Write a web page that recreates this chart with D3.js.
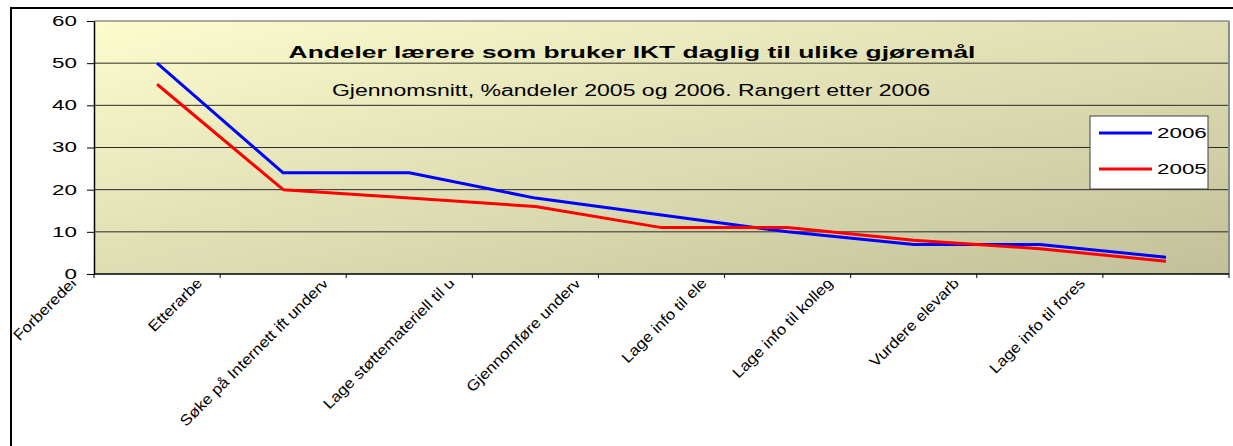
<!DOCTYPE html>
<html><head><meta charset="utf-8">
<script src="https://cdn.jsdelivr.net/npm/d3@7"></script>
<style>html,body{margin:0;padding:0;background:#fff;overflow:hidden;} svg{display:block}</style>
</head><body>
<script>
// ---- data ----
const categories = ["Forberedel", "Etterarbe", "Søke på Internett ift underv", "Lage støttemateriell til u", "Gjennomføre underv", "Lage info til ele", "Lage info til kolleg", "Vurdere elevarb", "Lage info til fores"];
const values2006 = [50, 24, 24, 18, 14, 10, 7, 7, 4];
const values2005 = [45, 20, 18, 16, 11, 11, 8, 6, 3];
const yTicks = [0, 10, 20, 30, 40, 50, 60];
const seriesNames = ["2006", "2005"];
const titleText = "Andeler lærere som bruker IKT daglig til ulike gjøremål";
const subtitleText = "Gjennomsnitt, %andeler 2005 og 2006. Rangert etter 2006";

// ---- layout ----
const W = 1233, H = 446;
const plot = {left: 94, right: 1229, top: 21, bottom: 274};
const FONT = "'Liberation Sans', Arial, Helvetica, sans-serif";
const colors = {"2006": "#0000ff", "2005": "#ff0000"};
const series = [{name: seriesNames[0], values: values2006}, {name: seriesNames[1], values: values2005}];

const svg = d3.select("body").append("svg").attr("width", W).attr("height", H)
  .style("background", "#fff");

function stretch(sel, f) {
  sel.each(function () {
    const L = this.getComputedTextLength();
    d3.select(this).attr("textLength", L * f).attr("lengthAdjust", "spacingAndGlyphs");
  });
}

const defs = svg.append("defs");
const grad = defs.append("linearGradient").attr("id", "bg")
  .attr("x1", 0).attr("y1", 0).attr("x2", 1).attr("y2", 1);
grad.append("stop").attr("offset", "0%").attr("stop-color", "#fcfccd");
grad.append("stop").attr("offset", "100%").attr("stop-color", "#c2c09a");
defs.append("clipPath").attr("id", "lblclip").append("rect")
  .attr("x", 13).attr("y", 281).attr("width", W).attr("height", H - 281);

// outer frame (left and top edges visible)
svg.append("path").attr("d", `M11,${H + 5}V8H${W + 5}`)
  .attr("fill", "none").attr("stroke", "#000").attr("stroke-width", 2);

const x = d3.scaleBand().domain(categories).range([plot.left, plot.right]);
const y = d3.scaleLinear().domain([0, 60]).range([plot.bottom, plot.top]);
const cx = c => x(c) + x.bandwidth() / 2;

// plot area
svg.append("rect").attr("x", plot.left).attr("y", plot.top)
  .attr("width", plot.right - plot.left).attr("height", plot.bottom - plot.top)
  .attr("fill", "url(#bg)");

// gridlines
svg.append("g").selectAll("line").data(yTicks.filter(v => v > 0 && v < 60)).join("line")
  .attr("x1", plot.left).attr("x2", plot.right)
  .attr("y1", d => y(d)).attr("y2", d => y(d))
  .attr("stroke", "#2a2a2a").attr("stroke-width", 1);
// top and right border
svg.append("line").attr("x1", plot.left).attr("x2", plot.right)
  .attr("y1", y(60)).attr("y2", y(60)).attr("stroke", "#8c8c8c").attr("stroke-width", 1.5);
svg.append("line").attr("x1", plot.right).attr("x2", plot.right)
  .attr("y1", y(60)).attr("y2", y(0)).attr("stroke", "#8c8c8c").attr("stroke-width", 2);

// y axis
const yAxis = svg.append("g").attr("transform", `translate(${plot.left},0)`)
  .call(d3.axisLeft(y).tickValues(yTicks).tickSize(7).tickPadding(10).tickSizeOuter(0));
yAxis.select(".domain").attr("stroke", "#000").attr("stroke-width", 1.5);
yAxis.selectAll(".tick line").attr("stroke", "#000").attr("stroke-width", 1);
yAxis.selectAll("text").attr("font-family", FONT).attr("font-size", 14).attr("fill", "#000")
  .call(stretch, 1.6);

// x axis line and boundary ticks
svg.append("line").attr("x1", plot.left).attr("x2", plot.right)
  .attr("y1", y(0)).attr("y2", y(0)).attr("stroke", "#000").attr("stroke-width", 1.5);
const bounds = categories.map(c => x(c)).concat([x.range()[1]]);
svg.append("g").selectAll("line").data(bounds).join("line")
  .attr("x1", d => d).attr("x2", d => d)
  .attr("y1", y(0)).attr("y2", y(0) + 4)
  .attr("stroke", "#000").attr("stroke-width", 1);

// x labels
svg.append("g").attr("clip-path", "url(#lblclip)")
  .selectAll("text").data(categories).join("text")
  .attr("transform", d => `translate(${cx(d) - 80},284) rotate(-45)`)
  .attr("text-anchor", "end")
  .attr("font-family", FONT).attr("font-size", 15).attr("fill", "#000")
  .text(d => d)
  .call(stretch, 1.12);

// lines
const line = d3.line().x((d, i) => cx(categories[i])).y(d => y(d));
svg.append("g").selectAll("path").data(series).join("path")
  .attr("d", s => line(s.values))
  .attr("fill", "none").attr("stroke", s => colors[s.name])
  .attr("stroke-width", 3).attr("stroke-linejoin", "round");

// title
svg.append("text").attr("x", 632).attr("y", 58).attr("text-anchor", "middle")
  .attr("font-family", FONT).attr("font-size", 17).attr("font-weight", "bold")
  .text(titleText).call(stretch, 1.55);
svg.append("text").attr("x", 631).attr("y", 96).attr("text-anchor", "middle")
  .attr("font-family", FONT).attr("font-size", 16)
  .text(subtitleText).call(stretch, 1.44);

// legend
const lg = svg.append("g");
lg.append("rect").attr("x", 1090).attr("y", 116).attr("width", 118).attr("height", 73)
  .attr("fill", "#fff").attr("stroke", "#404040").attr("stroke-width", 1);
const items = lg.selectAll("g.item").data(series).join("g")
  .attr("transform", (d, i) => `translate(1099,${133 + i * 36})`);
items.append("line").attr("x1", 0).attr("x2", 53).attr("y1", 0).attr("y2", 0)
  .attr("stroke", d => colors[d.name]).attr("stroke-width", 3);
items.append("text").attr("x", 58).attr("y", 5)
  .attr("font-family", FONT).attr("font-size", 14).text(d => d.name)
  .call(stretch, 1.6);
</script>
</body></html>
